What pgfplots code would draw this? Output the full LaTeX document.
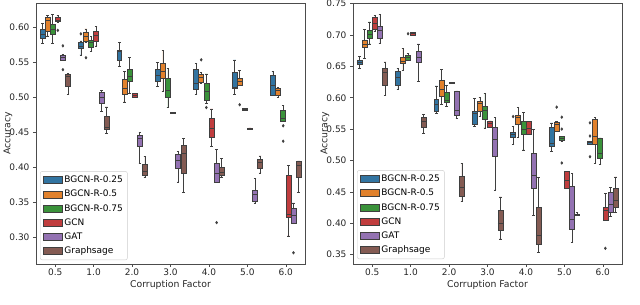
\documentclass[border=0pt]{standalone}
\usepackage{pgfplots}
\pgfplotsset{compat=1.18}
\usepgfplotslibrary{statistics}
\usepackage{fontspec}
\setmainfont{DejaVu Sans}
\definecolor{cA}{HTML}{3274A1}
\definecolor{cB}{HTML}{E1812C}
\definecolor{cC}{HTML}{3A923A}
\definecolor{cD}{HTML}{C03D3E}
\definecolor{cE}{HTML}{9372B2}
\definecolor{cF}{HTML}{845B53}
\definecolor{edge}{HTML}{3F3F3F}
\pgfplotsset{
  bp/.style={forget plot, solid, draw=edge, line width=0.55pt,
    mark=diamond*, mark size=1.3pt, mark options={fill=edge,draw=edge,solid},
    boxplot/draw direction=y,
    boxplot/box extend=0.13, boxplot/whisker extend=0.065},
  legbox/.style={legend image code/.code={\draw[#1,sharp corners,line width=0.55pt] (0pt,-3.5pt) rectangle (19pt,3.5pt);}},
  common/.style={
    scale only axis, width=269pt, height=261pt, anchor=south west,
    xmin=-0.5, xmax=6.5,
    boxplot/draw direction=y,
    xtick={0,1,2,3,4,5,6},
    xticklabels={0.5,1.0,2.0,3.0,4.0,5.0,6.0},
    tick align=outside, tick pos=left, major tick length=3pt,
    tick style={black!70, line width=0.5pt},
    axis line style={black!70, line width=0.6pt},
    ticklabel style={font=\fontsize{9}{10}\selectfont, text=black!85},
    xticklabel style={yshift=1.5pt},
    label style={font=\fontsize{9.3}{11}\selectfont, text=black!85},
    /pgf/number format/assume math mode=true,
    yticklabel style={/pgf/number format/.cd, fixed, fixed zerofill, precision=2},
    xlabel={Corruption Factor}, ylabel={Accuracy},
    xlabel style={at={(axis description cs:0.5,-0.08)}, anchor=center},
    ylabel style={at={(axis description cs:-0.104,0.5)}, anchor=center},
    legend cell align=left,
    legend style={font=\fontsize{9}{10}\selectfont, draw=black!20, rounded corners=2pt,
      fill=white, anchor=south west, row sep=2.8pt, inner sep=3pt,
      nodes={inner sep=1.6pt},
      /tikz/every even column/.append style={column sep=4pt}},
  }
}
\begin{document}
\begin{tikzpicture}
\useasboundingbox (0pt,0pt) rectangle (640pt,305pt);
% ---------------- left panel ----------------
\begin{axis}[common, at={(36pt,41pt)}, ymin=0.262, ymax=0.634,
  ytick={0.30,0.35,0.40,0.45,0.50,0.55,0.60},
  legend style={at={(0.015,0.015)}}]
\addlegendimage{legbox={fill=cA,draw=edge}}\addlegendentry{BGCN-R-0.25}
\addlegendimage{legbox={fill=cB,draw=edge}}\addlegendentry{BGCN-R-0.5}
\addlegendimage{legbox={fill=cC,draw=edge}}\addlegendentry{BGCN-R-0.75}
\addlegendimage{legbox={fill=cD,draw=edge}}\addlegendentry{GCN}
\addlegendimage{legbox={fill=cE,draw=edge}}\addlegendentry{GAT}
\addlegendimage{legbox={fill=cF,draw=edge}}\addlegendentry{Graphsage}
% 0.5
\addplot[bp,fill=cA,boxplot prepared={draw position=-0.333,lower whisker=0.576,lower quartile=0.584,median=0.590,upper quartile=0.597,upper whisker=0.605}] coordinates {};
\addplot[bp,fill=cB,boxplot prepared={draw position=-0.2,lower whisker=0.587,lower quartile=0.594,median=0.609,upper quartile=0.613,upper whisker=0.616}] coordinates {};
\addplot[bp,fill=cC,boxplot prepared={draw position=-0.067,lower whisker=0.576,lower quartile=0.589,median=0.597,upper quartile=0.603,upper whisker=0.618}] coordinates {};
\addplot[bp,fill=cD,boxplot prepared={draw position=0.067,lower whisker=0.607,lower quartile=0.608,median=0.610,upper quartile=0.613,upper whisker=0.616}] table[row sep=\\,y index=0] {y\\ 0.595\\};
\addplot[bp,fill=cE,boxplot prepared={draw position=0.2,lower whisker=0.552,lower quartile=0.553,median=0.557,upper quartile=0.560,upper whisker=0.561}] table[row sep=\\,y index=0] {y\\ 0.573\\ 0.539\\};
\addplot[bp,fill=cF,boxplot prepared={draw position=0.333,lower whisker=0.504,lower quartile=0.516,median=0.530,upper quartile=0.533,upper whisker=0.534}] coordinates {};
% 1.0
\addplot[bp,fill=cA,boxplot prepared={draw position=0.667,lower whisker=0.560,lower quartile=0.569,median=0.572,upper quartile=0.578,upper whisker=0.580}] table[row sep=\\,y index=0] {y\\ 0.590\\};
\addplot[bp,fill=cB,boxplot prepared={draw position=0.8,lower whisker=0.578,lower quartile=0.579,median=0.586,upper quartile=0.592,upper whisker=0.597}] table[row sep=\\,y index=0] {y\\ 0.556\\};
\addplot[bp,fill=cC,boxplot prepared={draw position=0.933,lower whisker=0.565,lower quartile=0.571,median=0.578,upper quartile=0.581,upper whisker=0.586}] coordinates {};
\addplot[bp,fill=cD,boxplot prepared={draw position=1.067,lower whisker=0.573,lower quartile=0.580,median=0.588,upper quartile=0.593,upper whisker=0.601}] coordinates {};
\addplot[bp,fill=cE,boxplot prepared={draw position=1.2,lower whisker=0.479,lower quartile=0.491,median=0.499,upper quartile=0.507,upper whisker=0.509}] coordinates {};
\addplot[bp,fill=cF,boxplot prepared={draw position=1.333,lower whisker=0.448,lower quartile=0.454,median=0.457,upper quartile=0.473,upper whisker=0.486}] coordinates {};
% 2.0
\addplot[bp,fill=cA,boxplot prepared={draw position=1.667,lower whisker=0.544,lower quartile=0.552,median=0.565,upper quartile=0.567,upper whisker=0.578}] coordinates {};
\addplot[bp,fill=cB,boxplot prepared={draw position=1.8,lower whisker=0.493,lower quartile=0.504,median=0.513,upper quartile=0.525,upper whisker=0.536}] coordinates {};
\addplot[bp,fill=cC,boxplot prepared={draw position=1.933,lower whisker=0.505,lower quartile=0.523,median=0.530,upper quartile=0.540,upper whisker=0.556}] coordinates {};
\addplot[bp,fill=cD,boxplot prepared={draw position=2.067,lower whisker=0.500,lower quartile=0.500,median=0.503,upper quartile=0.505,upper whisker=0.505}] coordinates {};
\addplot[bp,fill=cE,boxplot prepared={draw position=2.2,lower whisker=0.405,lower quartile=0.430,median=0.441,upper quartile=0.446,upper whisker=0.450}] coordinates {};
\addplot[bp,fill=cF,boxplot prepared={draw position=2.333,lower whisker=0.385,lower quartile=0.389,median=0.394,upper quartile=0.404,upper whisker=0.415}] coordinates {};
% 3.0
\addplot[bp,fill=cA,boxplot prepared={draw position=2.667,lower whisker=0.515,lower quartile=0.522,median=0.531,upper quartile=0.540,upper whisker=0.549}] coordinates {};
\addplot[bp,fill=cB,boxplot prepared={draw position=2.8,lower whisker=0.508,lower quartile=0.527,median=0.536,upper quartile=0.548,upper whisker=0.566}] coordinates {};
\addplot[bp,fill=cC,boxplot prepared={draw position=2.933,lower whisker=0.485,lower quartile=0.499,median=0.509,upper quartile=0.527,upper whisker=0.541}] coordinates {};
\addplot[bp,fill=cD,boxplot prepared={draw position=3.067,lower whisker=0.4775,lower quartile=0.4775,median=0.478,upper quartile=0.4785,upper whisker=0.4785}] coordinates {};
\addplot[bp,fill=cE,boxplot prepared={draw position=3.2,lower whisker=0.379,lower quartile=0.399,median=0.410,upper quartile=0.418,upper whisker=0.423}] coordinates {};
\addplot[bp,fill=cF,boxplot prepared={draw position=3.333,lower whisker=0.364,lower quartile=0.392,median=0.420,upper quartile=0.431,upper whisker=0.441}] coordinates {};
% 4.0
\addplot[bp,fill=cA,boxplot prepared={draw position=3.667,lower whisker=0.504,lower quartile=0.511,median=0.519,upper quartile=0.539,upper whisker=0.548}] coordinates {};
\addplot[bp,fill=cB,boxplot prepared={draw position=3.8,lower whisker=0.519,lower quartile=0.521,median=0.528,upper quartile=0.532,upper whisker=0.535}] table[row sep=\\,y index=0] {y\\ 0.553\\};
\addplot[bp,fill=cC,boxplot prepared={draw position=3.933,lower whisker=0.491,lower quartile=0.495,median=0.508,upper quartile=0.520,upper whisker=0.533}] table[row sep=\\,y index=0] {y\\ 0.485\\};
\addplot[bp,fill=cD,boxplot prepared={draw position=4.067,lower whisker=0.430,lower quartile=0.443,median=0.456,upper quartile=0.470,upper whisker=0.483}] coordinates {};
\addplot[bp,fill=cE,boxplot prepared={draw position=4.2,lower whisker=0.378,lower quartile=0.378,median=0.392,upper quartile=0.406,upper whisker=0.425}] table[row sep=\\,y index=0] {y\\ 0.321\\};
\addplot[bp,fill=cF,boxplot prepared={draw position=4.333,lower whisker=0.386,lower quartile=0.388,median=0.393,upper quartile=0.400,upper whisker=0.412}] coordinates {};
% 5.0
\addplot[bp,fill=cA,boxplot prepared={draw position=4.667,lower whisker=0.504,lower quartile=0.513,median=0.514,upper quartile=0.535,upper whisker=0.553}] coordinates {};
\addplot[bp,fill=cB,boxplot prepared={draw position=4.8,lower whisker=0.517,lower quartile=0.517,median=0.523,upper quartile=0.526,upper whisker=0.538}] table[row sep=\\,y index=0] {y\\ 0.489\\};
\addplot[bp,fill=cC,boxplot prepared={draw position=4.933,lower whisker=0.481,lower quartile=0.481,median=0.482,upper quartile=0.484,upper whisker=0.484}] coordinates {};
\addplot[bp,fill=cD,boxplot prepared={draw position=5.067,lower whisker=0.454,lower quartile=0.454,median=0.455,upper quartile=0.456,upper whisker=0.456}] coordinates {};
\addplot[bp,fill=cE,boxplot prepared={draw position=5.2,lower whisker=0.349,lower quartile=0.352,median=0.362,upper quartile=0.367,upper whisker=0.384}] coordinates {};
\addplot[bp,fill=cF,boxplot prepared={draw position=5.333,lower whisker=0.392,lower quartile=0.399,median=0.407,upper quartile=0.411,upper whisker=0.416}] coordinates {};
% 6.0
\addplot[bp,fill=cA,boxplot prepared={draw position=5.667,lower whisker=0.503,lower quartile=0.503,median=0.517,upper quartile=0.531,upper whisker=0.537}] coordinates {};
\addplot[bp,fill=cB,boxplot prepared={draw position=5.8,lower whisker=0.500,lower quartile=0.503,median=0.510,upper quartile=0.513,upper whisker=0.514}] coordinates {};
\addplot[bp,fill=cC,boxplot prepared={draw position=5.933,lower whisker=0.466,lower quartile=0.466,median=0.469,upper quartile=0.481,upper whisker=0.488}] table[row sep=\\,y index=0] {y\\ 0.459\\ 0.437\\};
\addplot[bp,fill=cD,boxplot prepared={draw position=6.067,lower whisker=0.302,lower quartile=0.329,median=0.333,upper quartile=0.388,upper whisker=0.402}] coordinates {};
\addplot[bp,fill=cE,boxplot prepared={draw position=6.2,lower whisker=0.320,lower quartile=0.320,median=0.331,upper quartile=0.341,upper whisker=0.349}] table[row sep=\\,y index=0] {y\\ 0.278\\};
\addplot[bp,fill=cF,boxplot prepared={draw position=6.333,lower whisker=0.364,lower quartile=0.386,median=0.402,upper quartile=0.409,upper whisker=0.409}] coordinates {};
\end{axis}
% ---------------- right panel ----------------
\begin{axis}[common, at={(353pt,41pt)}, ymin=0.335, ymax=0.751,
  ytick={0.35,0.40,0.45,0.50,0.55,0.60,0.65,0.70,0.75},
  legend style={at={(0.015,0.019)}}]
\addlegendimage{legbox={fill=cA,draw=edge}}\addlegendentry{BGCN-R-0.25}
\addlegendimage{legbox={fill=cB,draw=edge}}\addlegendentry{BGCN-R-0.5}
\addlegendimage{legbox={fill=cC,draw=edge}}\addlegendentry{BGCN-R-0.75}
\addlegendimage{legbox={fill=cD,draw=edge}}\addlegendentry{GCN}
\addlegendimage{legbox={fill=cE,draw=edge}}\addlegendentry{GAT}
\addlegendimage{legbox={fill=cF,draw=edge}}\addlegendentry{Graphsage}
% 0.5
\addplot[bp,fill=cA,boxplot prepared={draw position=-0.333,lower whisker=0.647,lower quartile=0.653,median=0.657,upper quartile=0.660,upper whisker=0.666}] coordinates {};
\addplot[bp,fill=cB,boxplot prepared={draw position=-0.2,lower whisker=0.663,lower quartile=0.680,median=0.686,upper quartile=0.692,upper whisker=0.709}] coordinates {};
\addplot[bp,fill=cC,boxplot prepared={draw position=-0.067,lower whisker=0.686,lower quartile=0.695,median=0.701,upper quartile=0.708,upper whisker=0.721}] coordinates {};
\addplot[bp,fill=cD,boxplot prepared={draw position=0.067,lower whisker=0.706,lower quartile=0.709,median=0.718,upper quartile=0.728,upper whisker=0.731}] coordinates {};
\addplot[bp,fill=cE,boxplot prepared={draw position=0.2,lower whisker=0.687,lower quartile=0.694,median=0.707,upper quartile=0.714,upper whisker=0.733}] coordinates {};
\addplot[bp,fill=cF,boxplot prepared={draw position=0.333,lower whisker=0.604,lower quartile=0.620,median=0.640,upper quartile=0.647,upper whisker=0.657}] coordinates {};
% 1.0
\addplot[bp,fill=cA,boxplot prepared={draw position=0.667,lower whisker=0.613,lower quartile=0.620,median=0.633,upper quartile=0.642,upper whisker=0.647}] coordinates {};
\addplot[bp,fill=cB,boxplot prepared={draw position=0.8,lower whisker=0.644,lower quartile=0.655,median=0.658,upper quartile=0.665,upper whisker=0.679}] coordinates {};
\addplot[bp,fill=cC,boxplot prepared={draw position=0.933,lower whisker=0.660,lower quartile=0.660,median=0.664,upper quartile=0.667,upper whisker=0.671}] table[row sep=\\,y index=0] {y\\ 0.702\\};
\addplot[bp,fill=cD,boxplot prepared={draw position=1.067,lower whisker=0.700,lower quartile=0.700,median=0.702,upper quartile=0.704,upper whisker=0.704}] coordinates {};
\addplot[bp,fill=cE,boxplot prepared={draw position=1.2,lower whisker=0.626,lower quartile=0.656,median=0.664,upper quartile=0.674,upper whisker=0.686}] coordinates {};
\addplot[bp,fill=cF,boxplot prepared={draw position=1.333,lower whisker=0.543,lower quartile=0.553,median=0.562,upper quartile=0.569,upper whisker=0.573}] coordinates {};
% 2.0
\addplot[bp,fill=cA,boxplot prepared={draw position=1.667,lower whisker=0.575,lower quartile=0.579,median=0.589,upper quartile=0.598,upper whisker=0.619}] coordinates {};
\addplot[bp,fill=cB,boxplot prepared={draw position=1.8,lower whisker=0.589,lower quartile=0.603,median=0.613,upper quartile=0.628,upper whisker=0.645}] coordinates {};
\addplot[bp,fill=cC,boxplot prepared={draw position=1.933,lower whisker=0.586,lower quartile=0.593,median=0.596,upper quartile=0.608,upper whisker=0.620}] coordinates {};
\addplot[bp,fill=cD,boxplot prepared={draw position=2.067,lower whisker=0.6235,lower quartile=0.6235,median=0.624,upper quartile=0.6245,upper whisker=0.6245}] coordinates {};
\addplot[bp,fill=cE,boxplot prepared={draw position=2.2,lower whisker=0.567,lower quartile=0.572,median=0.580,upper quartile=0.611,upper whisker=0.611}] coordinates {};
\addplot[bp,fill=cF,boxplot prepared={draw position=2.333,lower whisker=0.435,lower quartile=0.443,median=0.457,upper quartile=0.475,upper whisker=0.495}] coordinates {};
% 3.0
\addplot[bp,fill=cA,boxplot prepared={draw position=2.667,lower whisker=0.554,lower quartile=0.558,median=0.575,upper quartile=0.579,upper whisker=0.599}] coordinates {};
\addplot[bp,fill=cB,boxplot prepared={draw position=2.8,lower whisker=0.570,lower quartile=0.578,median=0.591,upper quartile=0.594,upper whisker=0.600}] coordinates {};
\addplot[bp,fill=cC,boxplot prepared={draw position=2.933,lower whisker=0.552,lower quartile=0.565,median=0.580,upper quartile=0.587,upper whisker=0.607}] coordinates {};
\addplot[bp,fill=cD,boxplot prepared={draw position=3.067,lower whisker=0.553,lower quartile=0.553,median=0.559,upper quartile=0.563,upper whisker=0.563}] coordinates {};
\addplot[bp,fill=cE,boxplot prepared={draw position=3.2,lower whisker=0.453,lower quartile=0.506,median=0.534,upper quartile=0.553,upper whisker=0.569}] coordinates {};
\addplot[bp,fill=cF,boxplot prepared={draw position=3.333,lower whisker=0.375,lower quartile=0.388,median=0.400,upper quartile=0.421,upper whisker=0.442}] coordinates {};
% 4.0
\addplot[bp,fill=cA,boxplot prepared={draw position=3.667,lower whisker=0.526,lower quartile=0.537,median=0.542,upper quartile=0.545,upper whisker=0.554}] table[row sep=\\,y index=0] {y\\ 0.570\\};
\addplot[bp,fill=cB,boxplot prepared={draw position=3.8,lower whisker=0.537,lower quartile=0.558,median=0.569,upper quartile=0.572,upper whisker=0.584}] coordinates {};
\addplot[bp,fill=cC,boxplot prepared={draw position=3.933,lower whisker=0.517,lower quartile=0.542,median=0.550,upper quartile=0.562,upper whisker=0.577}] coordinates {};
\addplot[bp,fill=cD,boxplot prepared={draw position=4.067,lower whisker=0.542,lower quartile=0.542,median=0.552,upper quartile=0.562,upper whisker=0.562}] coordinates {};
\addplot[bp,fill=cE,boxplot prepared={draw position=4.2,lower whisker=0.413,lower quartile=0.455,median=0.476,upper quartile=0.512,upper whisker=0.550}] coordinates {};
\addplot[bp,fill=cF,boxplot prepared={draw position=4.333,lower whisker=0.354,lower quartile=0.367,median=0.380,upper quartile=0.425,upper whisker=0.473}] coordinates {};
% 5.0
\addplot[bp,fill=cA,boxplot prepared={draw position=4.667,lower whisker=0.514,lower quartile=0.523,median=0.527,upper quartile=0.553,upper whisker=0.560}] coordinates {};
\addplot[bp,fill=cB,boxplot prepared={draw position=4.8,lower whisker=0.547,lower quartile=0.547,median=0.558,upper quartile=0.561,upper whisker=0.562}] table[row sep=\\,y index=0] {y\\ 0.585\\};
\addplot[bp,fill=cC,boxplot prepared={draw position=4.933,lower whisker=0.530,lower quartile=0.532,median=0.535,upper quartile=0.538,upper whisker=0.538}] table[row sep=\\,y index=0] {y\\ 0.569\\ 0.550\\ 0.496\\};
\addplot[bp,fill=cD,boxplot prepared={draw position=5.067,lower whisker=0.456,lower quartile=0.456,median=0.469,upper quartile=0.482,upper whisker=0.482}] coordinates {};
\addplot[bp,fill=cE,boxplot prepared={draw position=5.2,lower whisker=0.370,lower quartile=0.390,median=0.407,upper quartile=0.459,upper whisker=0.480}] coordinates {};
\addplot[bp,fill=cF,boxplot prepared={draw position=5.333,lower whisker=0.412,lower quartile=0.412,median=0.413,upper quartile=0.415,upper whisker=0.417}] coordinates {};
% 6.0
\addplot[bp,fill=cA,boxplot prepared={draw position=5.667,lower whisker=0.526,lower quartile=0.526,median=0.529,upper quartile=0.531,upper whisker=0.531}] table[row sep=\\,y index=0] {y\\ 0.560\\ 0.539\\ 0.506\\};
\addplot[bp,fill=cB,boxplot prepared={draw position=5.8,lower whisker=0.495,lower quartile=0.526,median=0.538,upper quartile=0.565,upper whisker=0.569}] coordinates {};
\addplot[bp,fill=cC,boxplot prepared={draw position=5.933,lower whisker=0.494,lower quartile=0.504,median=0.511,upper quartile=0.536,upper whisker=0.536}] coordinates {};
\addplot[bp,fill=cD,boxplot prepared={draw position=6.067,lower whisker=0.405,lower quartile=0.405,median=0.420,upper quartile=0.425,upper whisker=0.447}] table[row sep=\\,y index=0] {y\\ 0.360\\};
\addplot[bp,fill=cE,boxplot prepared={draw position=6.2,lower whisker=0.411,lower quartile=0.417,median=0.430,upper quartile=0.450,upper whisker=0.457}] coordinates {};
\addplot[bp,fill=cF,boxplot prepared={draw position=6.333,lower whisker=0.417,lower quartile=0.426,median=0.436,upper quartile=0.455,upper whisker=0.474}] coordinates {};
\end{axis}
\end{tikzpicture}
\end{document}
